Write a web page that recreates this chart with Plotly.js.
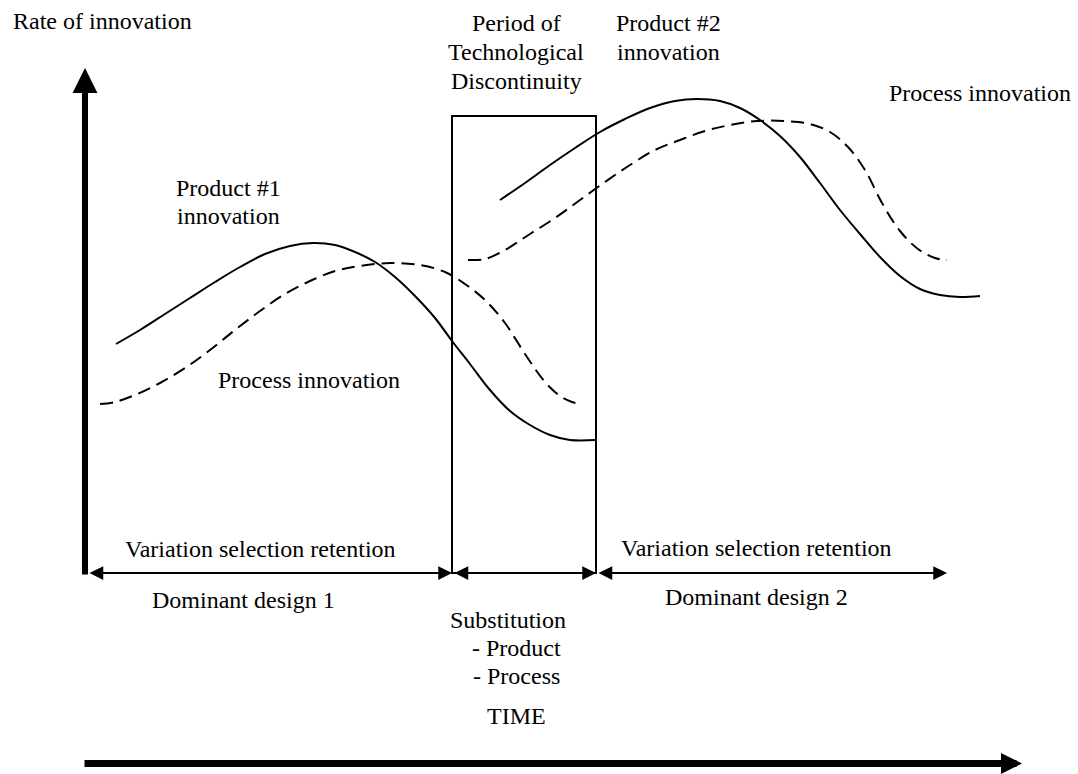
<!DOCTYPE html>
<html>
<head>
<meta charset="utf-8">
<script src="https://cdn.plot.ly/plotly-3.0.1.min.js"></script>
<style>
  html, body { margin: 0; padding: 0; background: #ffffff; }
  #chart { width: 1078px; height: 774px; }
  #chart .annotation-text { font-family: 'Liberation Serif', serif !important; }
</style>
</head>
<body>
<div id="chart"></div>
<script>
// ---- Curve data (diagram units: x = time position, y = screen-down position) ----
const product1X = [116, 140, 165, 190, 215, 240, 265, 290, 313, 335, 355, 375, 395, 415, 435, 452, 470, 490, 510, 530, 550, 570, 596];
const product1Y = [344, 330, 314, 298, 282, 267, 254, 246, 243, 245, 252, 262, 277, 296, 318, 341, 364, 390, 411, 425, 435, 440, 440];

const process1X = [100, 115, 135, 160, 185, 210, 235, 260, 285, 310, 335, 360, 390, 420, 445, 465, 485, 505, 525, 545, 560, 572, 580];
const process1Y = [404, 402, 395, 383, 368, 350, 330, 311, 294, 281, 271, 266, 263, 265, 272, 284, 300, 323, 354, 382, 396, 402, 404];

const product2X = [500, 525, 550, 575, 600, 625, 650, 675, 697, 720, 740, 760, 780, 800, 820, 840, 860, 880, 900, 920, 940, 960, 980];
const product2Y = [200, 183, 165, 148, 132, 119, 108, 101,  99, 101, 108, 120, 136, 157, 183, 210, 234, 257, 276, 289, 295, 297, 296];

const process2X = [468, 485, 505, 530, 555, 580, 605, 630, 655, 680, 705, 730, 757, 785, 810, 830, 848, 865, 882, 900, 918, 935, 947];
const process2Y = [260, 259, 250, 234, 218, 200, 182, 165, 150, 140, 131, 125, 121, 121, 124, 132, 147, 170, 203, 231, 249, 258, 260];

// ---- Period boundaries on the time axis ----
const periodBounds = [88, 452, 596, 947];

// ---- Text labels ----
const axisYLabel = "Rate of innovation";
const axisXLabel = "TIME";
const discontinuityLines = ["Period of", "Technological", "Discontinuity"];
const product1Lines = ["Product #1", "innovation"];
const product2Lines = ["Product #2", "innovation"];
const processLabel = "Process innovation";
const retentionLabel = "Variation selection retention";
const dominantLabels = ["Dominant design 1", "Dominant design 2"];
const substitutionLines = ["Substitution", "- Product", "- Process"];

// ---- Build ----
function font() {
  return { family: "Liberation Serif", size: 24, color: "#000000" };
}

function curve(x, y, dash) {
  return {
    type: "scatter", mode: "lines", x: x, y: y,
    line: { color: "#000000", width: 2, shape: "spline", smoothing: 1, dash: dash },
    hoverinfo: "skip", showlegend: false
  };
}

const traces = [
  curve(product1X, product1Y, "solid"),
  curve(process1X, process1Y, "13px,7px"),
  curve(product2X, product2Y, "solid"),
  curve(process2X, process2Y, "13px,7px")
];

function label(text, x, y, xanchor) {
  return { text: text, x: x, y: y, xref: "x", yref: "y", showarrow: false,
           xanchor: xanchor || "center", yanchor: "middle", font: font() };
}

function arrow(x0, y0, x1, y1, width, size, both) {
  return {
    x: x1, y: y1, ax: x0, ay: y0, xref: "x", yref: "y", axref: "x", ayref: "y",
    text: "", showarrow: true, arrowhead: 2, arrowsize: size, arrowwidth: width,
    arrowcolor: "#000000", arrowside: both ? "end+start" : "end",
    startarrowhead: 2, startarrowsize: size, standoff: 0, startstandoff: 0
  };
}

const baseY = 573;
const annotations = [];

// Axes arrows
annotations.push(arrow(85, 576, 85, 68, 6, 0.83, false));
annotations.push(arrow(83, 763.5, 1022, 763.5, 7, 0.6, false));

// Period arrows along the base line
for (let i = 0; i < periodBounds.length - 1; i++) {
  annotations.push(arrow(periodBounds[i] + (i === 0 ? 0 : 1), baseY, periodBounds[i + 1], baseY, 2.2, 1.25, true));
}

// Texts
annotations.push(label(axisYLabel, 11, 21, "left"));
discontinuityLines.forEach((t, i) => annotations.push(label(t, 516, 23 + i * 29)));
product2Lines.forEach((t, i) => annotations.push(label(t, 668, 23 + i * 29)));
annotations.push(label(processLabel, 887, 93, "left"));
product1Lines.forEach((t, i) => annotations.push(label(t, 228, 188 + i * 28)));
annotations.push(label(processLabel, 216, 380, "left"));
annotations.push(label(retentionLabel, 260, 549));
annotations.push(label(retentionLabel, 756, 548));
annotations.push(label(dominantLabels[0], 243, 600));
annotations.push(label(dominantLabels[1], 756, 597));
substitutionLines.forEach((t, i) => annotations.push(label(t, i === 0 ? 508 : 516, 620 + i * 28)));
annotations.push(label(axisXLabel, 516, 716));

const shapes = [
  { type: "rect", xref: "x", yref: "y", x0: periodBounds[1], x1: periodBounds[2], y0: 116, y1: baseY,
    line: { color: "#000000", width: 2 }, fillcolor: "rgba(0,0,0,0)" }
];

const layout = {
  width: 1078, height: 774,
  margin: { l: 0, r: 0, t: 0, b: 0, pad: 0 },
  paper_bgcolor: "#ffffff", plot_bgcolor: "#ffffff",
  xaxis: { range: [0, 1078], visible: false, fixedrange: true },
  yaxis: { range: [774, 0], visible: false, fixedrange: true },
  showlegend: false,
  annotations: annotations,
  shapes: shapes
};

Plotly.newPlot("chart", traces, layout, { displayModeBar: false });
</script>
</body>
</html>
